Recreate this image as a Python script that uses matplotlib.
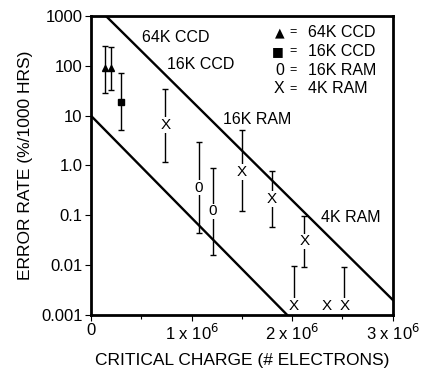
import matplotlib.pyplot as plt
import numpy as np

plt.rcParams['font.family'] = ['Liberation Sans', 'DejaVu Sans']

# fitted lines (endpoints)
upper_x = [0.15e6, 3.0e6]
upper_y = [1000, 0.002]
lower_x = [0.0, 1.95e6]
lower_y = [10, 0.001]

# 64K CCD
ccd64_x = [0.14e6, 0.20e6]
ccd64_y = [90, 90]
ccd64_lo = [28, 33]
ccd64_hi = [250, 245]

# 16K CCD
ccd16_x = [0.30e6]
ccd16_y = [19]
ccd16_lo = [5.2]
ccd16_hi = [72]

# 16K RAM
ram16_x = [1.07e6, 1.21e6]
ram16_y = [0.36, 0.12]
ram16_lo = [0.045, 0.016]
ram16_hi = [3.0, 0.9]

# 4K RAM
ram4_x = [0.74e6, 1.50e6, 1.80e6, 2.12e6, 2.02e6, 2.34e6, 2.52e6]
ram4_y = [6.5, 0.74, 0.21, 0.03, 0.0015, 0.0015, 0.0015]
ram4_lo = [1.17, 0.12, 0.059, 0.0091, 0.0015, 0.0015, 0.0015]
ram4_hi = [35, 5.1, 0.78, 0.097, 0.0096, 0.0015, 0.0093]

fig = plt.figure(figsize=(4.21, 3.74), dpi=100)
ax = fig.add_axes([0.216, 0.158, 0.717, 0.799])
ax.set_yscale('log')
ax.set_xlim(0, 3e6)
ax.set_ylim(0.001, 1000)

ax.plot(upper_x, upper_y, color='black', lw=1.7)
ax.plot(lower_x, lower_y, color='black', lw=1.7)


def bars(xs, ys, lo, hi):
    ys = np.array(ys)
    err = [ys - np.array(lo), np.array(hi) - ys]
    ax.errorbar(xs, ys, yerr=err, fmt='none', ecolor='black', elinewidth=1.0,
                capsize=2.5, capthick=1.0)


bars(ccd64_x, ccd64_y, ccd64_lo, ccd64_hi)
bars(ccd16_x, ccd16_y, ccd16_lo, ccd16_hi)
bars(ram16_x, ram16_y, ram16_lo, ram16_hi)
bars(ram4_x, ram4_y, ram4_lo, ram4_hi)

ax.plot(ccd64_x, ccd64_y, '^', color='black', ms=4)
ax.plot(ccd16_x, ccd16_y, 's', color='black', ms=4)

for x, y in zip(ram16_x, ram16_y):
    ax.text(x, y, '0', ha='center', va='center', fontsize=11,
            bbox=dict(facecolor='white', edgecolor='none', pad=0.5))
for x, y in zip(ram4_x, ram4_y):
    ax.text(x, y, 'X', ha='center', va='center', fontsize=11,
            bbox=dict(facecolor='white', edgecolor='none', pad=0.5))

# line labels
ax.text(0.51e6, 380, '64K CCD', fontsize=11.5, va='center')
ax.text(0.76e6, 105, '16K CCD', fontsize=11.5, va='center')
ax.text(1.31e6, 8.5, '16K RAM', fontsize=11.5, va='center')
ax.text(2.29e6, 0.09, '4K RAM', fontsize=11.5, va='center')

# legend as text
leg_sym = ['\u25b2', '\u25a0', '0', 'X']
leg_txt = ['64K CCD', '16K CCD', '16K RAM', '4K RAM']
for i, (s, t) in enumerate(zip(leg_sym, leg_txt)):
    yy = 0.945 - i * 0.063
    ax.text(0.64, yy, s, transform=ax.transAxes, ha='right', va='center',
            fontsize=9 if i < 2 else 11.5,
            family=['DejaVu Sans'] if i < 2 else None)
    ax.text(0.67, yy, '=', transform=ax.transAxes, ha='center', va='center', fontsize=9)
    ax.text(0.72, yy, t, transform=ax.transAxes, ha='left', va='center', fontsize=11.5)

ax.set_yticks([0.001, 0.01, 0.1, 1, 10, 100, 1000])
ax.set_yticklabels(['0.001', '0.01', '0.1', '1.0', '10', '100', '1000'], fontsize=12)
ax.yaxis.set_minor_locator(plt.NullLocator())
ax.set_xticks([0, 1e6, 2e6, 3e6])
ax.set_xticklabels(['0', '1 x 10$^6$', '2 x 10$^6$', '3 x 10$^6$'], fontsize=12)
ax.set_xticks([0.5e6, 1.5e6, 2.5e6], minor=True)
ax.tick_params(axis='both', direction='out', length=4, width=0.8, pad=2)
ax.tick_params(axis='x', which='minor', direction='out', length=3, width=0.8)

for sp in ax.spines.values():
    sp.set_linewidth(2)

ax.set_xlabel('CRITICAL CHARGE (# ELECTRONS)', fontsize=12.5, labelpad=7)
ax.set_ylabel('ERROR RATE (%/1000 HRS)', fontsize=12.5, labelpad=6)

fig.savefig('out.png', dpi=100)
